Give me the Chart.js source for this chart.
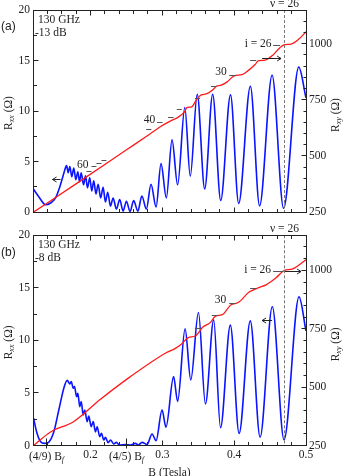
<!DOCTYPE html>
<html>
<head>
<meta charset="utf-8">
<script src="https://cdn.jsdelivr.net/npm/chart.js@4.4.1/dist/chart.umd.min.js"></script>
<style>
  html, body { margin: 0; padding: 0; background: #fff; }
  #wrap { position: relative; width: 346px; height: 476px; }
  canvas { position: absolute; left: 0; }
  #ca { top: 0; }
  #cb { top: 222px; }
</style>
</head>
<body>
<div id="wrap">
  <canvas id="ca" width="346" height="222"></canvas>
  <canvas id="cb" width="346" height="254"></canvas>
</div>
<script>
// ---- panel (a), 130 GHz, -13 dB ----
var bRxxA = [0.1208,0.1278,0.1375,0.1444,0.1514,0.1569,0.1611,0.1639,0.1667,0.1690,0.1713,0.1740,0.1768,0.1796,0.1824,0.1847,0.1871,0.1903,0.1931,0.1958,0.1990,0.2018,0.2046,0.2076,0.2107,0.2142,0.2176,0.2208,0.2240,0.2278,0.2315,0.2361,0.2407,0.2454,0.2500,0.2551,0.2601,0.2660,0.2715,0.2778,0.2843,0.2913,0.2982,0.3056,0.3135,0.3213,0.3313,0.3389,0.3486,0.3590,0.3701,0.3813,0.3949,0.4063,0.4226,0.4354,0.4528,0.4688,0.4899,0.5000];
var rxxA  = [2.26,1.55,0.73,0.9,1.4,2.4,3.4,4.1,4.6,3.9,4.5,3.5,4.35,3.2,4.0,3.0,3.9,2.7,3.6,2.4,3.4,2.1,3.1,1.8,2.76,1.4,2.45,1.0,1.97,0.6,1.4,0.3,1.24,0.1,1.08,0.05,1.14,0.1,1.6,0.3,2.76,0.5,4.8,1.4,7.15,2.7,10.35,3.56,11.66,2.3,11.66,1.15,11.6,0.85,12.45,0.62,13.55,0.38,14.35,11.3];
var bRxyA = [0.1208,0.1861,0.2486,0.2833,0.2972,0.3111,0.3222,0.3306,0.3347,0.3410,0.3479,0.3542,0.3611,0.3708,0.3750,0.3819,0.3903,0.4000,0.4111,0.4194,0.4292,0.4333,0.4431,0.4542,0.4639,0.4694,0.4792,0.4889,0.5000];
var rxyA  = [250,389,524,599,630,655,673,695,716,719,752,772,776,796,810,815,830,857,862,880,907,923,927,950,983,995,998,1017,1053];

// ---- panel (b), 130 GHz, -8 dB ----
var bRxxB = [0.1208,0.1250,0.1306,0.1361,0.1417,0.1490,0.1560,0.1629,0.1676,0.1713,0.1732,0.1760,0.1778,0.1806,0.1824,0.1851,0.1871,0.1899,0.1921,0.1954,0.1976,0.2010,0.2038,0.2069,0.2093,0.2129,0.2153,0.2185,0.2208,0.2246,0.2278,0.2324,0.2361,0.2403,0.2486,0.2556,0.2625,0.2667,0.2718,0.2788,0.2857,0.2913,0.2996,0.3051,0.3157,0.3213,0.3317,0.3396,0.3503,0.3600,0.3715,0.3810,0.3947,0.4069,0.4225,0.4361,0.4531,0.4694,0.4903,0.5000];
var rxxB  = [2.6,1.3,0.35,0.2,0.3,1.3,3.4,5.45,6.2,5.86,6.08,5.45,5.6,4.65,4.97,3.7,4.17,2.9,3.38,2.27,2.8,1.79,2.27,1.3,1.79,0.84,1.16,0.52,0.78,0.27,0.52,0.15,0.3,0.05,0.1,0.05,0.2,0.05,0.3,0.1,1.1,0.46,3.38,1.75,6.55,4.2,11.1,6.24,12.65,3.95,11.95,1.7,11.45,1.15,11.86,0.8,13.2,0.55,14.14,10.9];
var bRxyB = [0.1208,0.1444,0.1764,0.2139,0.2556,0.3042,0.3181,0.3264,0.3361,0.3458,0.3569,0.3667,0.3736,0.3833,0.3958,0.4056,0.4208,0.4333,0.4444,0.4583,0.4694,0.4806,0.4917,0.5000];
var rxyB  = [250,308,352,448,545,645,666,684,712,719,758,776,803,810,853,862,907,925,938,968,999,1005,1026,1046];

// axes
var xTicks = [0.2, 0.3, 0.4, 0.5];
var rxyTicks = [250, 500, 750, 1000];
var nu26 = 0.4694;   // filling factor 26
var bf = 0.3125;     // B_f

var serif = "'Liberation Serif', 'Times New Roman', serif";
var ink = '#222';

function pts(xs, ys) {
  return xs.map(function (b, i) { return { x: b, y: ys[i] }; });
}

// write text with subscripts, parts = [[text, isSub], ...]
function subText(ctx, parts, x, y, align) {
  var w = 0;
  parts.forEach(function (p) {
    ctx.font = p[1] ? 'italic 8px ' + serif : '11.5px ' + serif;
    w += ctx.measureText(p[0]).width;
  });
  var cx = align === 'center' ? x - w / 2 : x;
  ctx.textAlign = 'left';
  ctx.textBaseline = 'middle';
  parts.forEach(function (p) {
    ctx.font = p[1] ? 'italic 8px ' + serif : '11.5px ' + serif;
    ctx.fillText(p[0], cx, p[1] ? y + 3 : y);
    cx += ctx.measureText(p[0]).width;
  });
}

function arrow(ctx, x1, x2, y, dir) {
  ctx.beginPath();
  ctx.moveTo(x1, y); ctx.lineTo(x2, y);
  var hx = dir < 0 ? x1 : x2;
  ctx.moveTo(hx - dir * 4, y - 2.5); ctx.lineTo(hx, y); ctx.lineTo(hx - dir * 4, y + 2.5);
  ctx.stroke();
}

var panelPlugin = {
  id: 'panel',
  afterDraw: function (chart, args, o) {
    var ctx = chart.ctx, a = chart.chartArea;
    var x = chart.scales.x, y = chart.scales.y, y2 = chart.scales.y2;
    var L = Math.floor(a.left) + 0.5, R = Math.floor(a.right) + 0.5;
    var T = Math.floor(a.top) + 0.5, B = Math.floor(a.bottom) + 0.5;
    ctx.save();

    // nu = 26 dashed line
    var xn = Math.floor(x.getPixelForValue(nu26)) + 0.5;
    ctx.strokeStyle = '#777'; ctx.lineWidth = 1; ctx.setLineDash([3, 2]);
    ctx.beginPath(); ctx.moveTo(xn, a.top); ctx.lineTo(xn, a.bottom); ctx.stroke();
    ctx.setLineDash([]);
    ctx.fillStyle = ink;
    ctx.font = '11.5px ' + serif; ctx.textAlign = 'center'; ctx.textBaseline = 'middle';
    ctx.fillText('\u03bd = 26', xn, a.top - 6);

    // frame and inward ticks
    ctx.strokeStyle = ink; ctx.lineWidth = 1;
    ctx.strokeRect(L, T, R - L, B - T);
    ctx.beginPath();
    for (var i = 6; i <= 25; i++) {
      var px = Math.floor(x.getPixelForValue(i * 0.02)) + 0.5;
      var len = (i % 5 === 0) ? 5 : 3.5;
      ctx.moveTo(px, B); ctx.lineTo(px, B - len);
      ctx.moveTo(px, T); ctx.lineTo(px, T + len);
    }
    for (i = 0; i <= 8; i++) {
      var py = Math.floor(y.getPixelForValue(i * 2.5)) + 0.5;
      ctx.moveTo(L, py); ctx.lineTo(L + (i % 2 === 0 ? 5 : 3.5), py);
    }
    for (i = 0; i <= 18; i++) {
      py = Math.floor(y2.getPixelForValue(250 + i * 50)) + 0.5;
      ctx.moveTo(R, py); ctx.lineTo(R - (i % 5 === 0 ? 5 : 3), py);
    }
    ctx.stroke();

    // fractional B_f ticks and labels
    (o.bfTicks || []).forEach(function (t) {
      var px = Math.floor(x.getPixelForValue(t[0] * bf)) + 0.5;
      ctx.beginPath(); ctx.moveTo(px, B - 7); ctx.lineTo(px, B + 3); ctx.stroke();
      ctx.fillStyle = ink;
      subText(ctx, [[t[1], false], ['f', true]], px, B + 11, 'center');
    });

    // plateau dashes
    ctx.strokeStyle = '#555';
    ctx.beginPath();
    o.dashes.forEach(function (d) {
      var py = Math.floor(y2.getPixelForValue(d[2])) + 0.5;
      ctx.moveTo(x.getPixelForValue(d[0]), py); ctx.lineTo(x.getPixelForValue(d[1]), py);
    });
    ctx.stroke();

    // filling factor labels
    ctx.fillStyle = ink; ctx.font = '11.5px ' + serif;
    ctx.textAlign = 'right'; ctx.textBaseline = 'middle';
    o.labels.forEach(function (l) {
      ctx.fillText(l[0], x.getPixelForValue(l[1]), y2.getPixelForValue(l[2]));
    });

    // arrows
    ctx.strokeStyle = ink;
    o.arrows.forEach(function (r) {
      var sc = r[3] === 'y' ? y : y2;
      arrow(ctx, x.getPixelForValue(r[0]), x.getPixelForValue(r[1]), Math.floor(sc.getPixelForValue(r[2])) + 0.5, r[4]);
    });

    // conditions text
    ctx.fillStyle = ink; ctx.font = '11.5px ' + serif;
    ctx.textAlign = 'left'; ctx.textBaseline = 'middle';
    ctx.fillText(o.info[0], a.left + 5, a.top + 10);
    ctx.fillText(o.info[1], a.left + 2, a.top + 23);
    ctx.font = "12px 'Liberation Sans', Arial, sans-serif";
    ctx.fillText(o.tag, 1, a.top + 17);

    // axis titles
    var midY = (a.top + a.bottom) / 2;
    ctx.save();
    ctx.translate(9, midY + 2); ctx.rotate(-Math.PI / 2);
    subText(ctx, [['R', false], ['xx', true], [' (\u03a9)', false]], 0, 0, 'center');
    ctx.restore();
    ctx.save();
    ctx.translate(335.5, midY + 4); ctx.rotate(-Math.PI / 2);
    subText(ctx, [['R', false], ['xy', true], [' (\u03a9)', false]], 0, 0, 'center');
    ctx.restore();

    ctx.restore();
  }
};

function makeChart(id, rxxPts, rxyPts, pad, xOpts, panelOpts) {
  var tickFont = { family: serif, size: 11.5 };
  return new Chart(document.getElementById(id), {
    type: 'line',
    data: {
      datasets: [
        { data: rxyPts, yAxisID: 'y2', borderColor: '#ff1a1a', borderWidth: 1.3 },
        { data: rxxPts, yAxisID: 'y', borderColor: '#0a14ff', borderWidth: 1.6 }
      ]
    },
    options: {
      responsive: false,
      animation: false,
      events: [],
      layout: { padding: pad },
      elements: {
        point: { radius: 0 },
        line: { cubicInterpolationMode: 'monotone' }
      },
      plugins: { legend: { display: false }, tooltip: { enabled: false }, panel: panelOpts },
      scales: {
        x: xOpts,
        y: {
          position: 'left', min: 0, max: 20,
          ticks: { stepSize: 5, padding: 3, font: tickFont, color: ink },
          grid: { display: false, drawTicks: false },
          border: { display: false },
          afterFit: function (s) { s.width = 33; }
        },
        y2: {
          position: 'right', min: 250, max: 1150,
          afterBuildTicks: function (s) { s.ticks = rxyTicks.map(function (v) { return { value: v }; }); },
          ticks: { padding: 3, font: tickFont, color: ink, callback: function (v) { return String(v); } },
          grid: { display: false, drawTicks: false },
          border: { display: false },
          afterFit: function (s) { s.width = 40; }
        }
      }
    },
    plugins: [panelPlugin]
  });
}

makeChart('ca', pts(bRxxA, rxxA), pts(bRxyA, rxyA),
  { top: 10, bottom: 1.3, left: 0, right: 0 },
  {
    type: 'linear', min: 0.12, max: 0.5,
    ticks: { display: false },
    grid: { display: false, drawTicks: false },
    border: { display: false },
    afterFit: function (s) { s.height = 0; }
  },
  {
    tag: '(a)', info: ['130 GHz', '-13 dB'],
    dashes: [[0.1944,0.2014,432],[0.2014,0.2083,452],[0.2083,0.2153,467],[0.2153,0.2222,482],
             [0.2774,0.2847,616],[0.2926,0.3004,647],[0.3079,0.3157,673],[0.3201,0.3271,708],
             [0.3454,0.3524,754],[0.3676,0.3754,808],[0.3931,0.4014,860],[0.4222,0.4306,925],[0.4542,0.4639,992]],
    labels: [['60',0.1972,458],['40',0.2903,659],['30',0.3896,872],['i = 26',0.4521,1000]],
    arrows: [[0.1472,0.1583,3.21,'y',-1],[0.4389,0.4653,936,'y2',1]]
  });

makeChart('cb', pts(bRxxB, rxxB), pts(bRxyB, rxyB),
  { top: 13.3, bottom: 0, left: 0, right: 0 },
  {
    type: 'linear', min: 0.12, max: 0.5,
    afterBuildTicks: function (s) { s.ticks = xTicks.map(function (v) { return { value: v }; }); },
    ticks: {
      padding: 3, autoSkip: false, maxRotation: 0, color: ink,
      font: { family: serif, size: 11.5 },
      callback: function (v) { return v.toFixed(1); }
    },
    title: { display: true, text: 'B (Tesla)', color: ink, font: { family: serif, size: 11.5 }, padding: { top: 0, bottom: -4 } },
    grid: { display: false, drawTicks: false },
    border: { display: false },
    afterFit: function (s) { s.height = 30.5; }
  },
  {
    tag: '(b)', info: ['130 GHz', '-8 dB'],
    bfTicks: [[4 / 9, '(4/9) B'], [4 / 5, '(4/5) B']],
    dashes: [[0.3454,0.3542,753],[0.3688,0.3771,807],[0.3931,0.4014,860],[0.4222,0.4306,921],[0.4542,0.4681,995]],
    labels: [['30',0.3889,871],['i = 26',0.4514,1003]],
    arrows: [[0.4708,0.4931,995,'y2',1],[0.4389,0.4528,11.86,'y',-1]]
  });
</script>
</body>
</html>
